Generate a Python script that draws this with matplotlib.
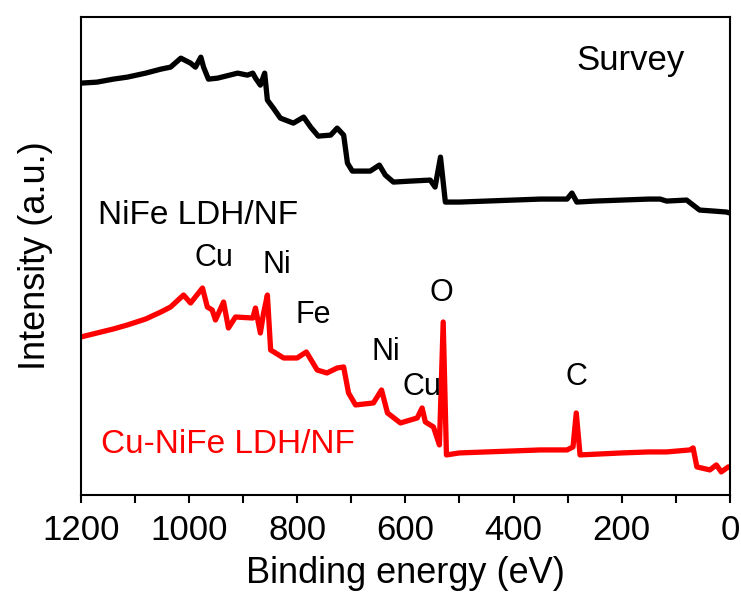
"""XPS survey spectra: NiFe LDH/NF vs Cu-NiFe LDH/NF."""

import matplotlib

matplotlib.use("Agg")
import matplotlib.pyplot as plt
from matplotlib.ticker import MultipleLocator

plt.rcParams["font.family"] = ["Liberation Sans", "DejaVu Sans"]

# binding energy (eV) and intensity (a.u., arbitrary offset units)
nife_energy = [1200, 1170, 1140, 1114, 1080, 1052, 1034, 1015, 997, 988, 978, 973,
               964, 947, 910, 892, 882, 877, 868, 860, 855, 844, 831, 807, 788,
               775, 761, 738, 726, 714, 707, 698, 665, 648, 637, 622, 590, 554,
               545, 535, 526, 500, 450, 400, 350, 301, 292, 283, 250, 200, 150,
               129, 117, 80, 56, 30, 6, 0]
nife_intensity = [412, 413, 416, 418, 422, 426, 428, 437, 432, 428, 438, 428,
                  416, 417, 422, 420, 422, 417, 410, 422, 395, 387, 377, 372, 378,
                  368, 359, 360, 367, 360, 332, 324, 324, 330, 320, 313, 314, 315,
                  308, 338, 293, 293, 294, 295, 296, 296, 302, 293, 294, 295, 296,
                  296, 294, 295, 285, 284, 283, 282]

cu_energy = [1200, 1170, 1140, 1114, 1080, 1052, 1034, 1010, 997, 975, 966, 957,
             951, 936, 927, 914, 882, 877, 868, 862, 855, 849, 825, 800, 783,
             763, 745, 726, 714, 705, 692, 659, 644, 633, 609, 578, 569, 563,
             548, 537, 530, 524, 500, 450, 400, 350, 301, 290, 284, 277, 200,
             150, 117, 74, 68, 61, 37, 25, 16, 3, 0]
cu_intensity = [158, 162, 166, 170, 176, 183, 188, 200, 192, 207, 188, 185,
                175, 193, 167, 178, 177, 187, 162, 182, 200, 145, 137, 137, 143,
                125, 122, 127, 128, 102, 90, 92, 105, 82, 72, 77, 87, 73,
                68, 50, 173, 40, 42, 43, 44, 45, 45, 48, 82, 40, 42,
                43, 43, 45, 47, 28, 25, 30, 23, 28, 28]

peak_labels = ["Cu", "Ni", "Fe", "O", "Ni", "Cu", "C"]
peak_label_energy = [954, 838, 771, 534, 637, 570, 283]
peak_label_height = [237, 230, 180, 202, 143, 108, 118]

fig = plt.figure(figsize=(7.41, 5.92), dpi=100)
ax = fig.add_axes([0.109, 0.164, 0.876, 0.807])

ax.plot(nife_energy, nife_intensity, color="black", lw=3.8,
        solid_joinstyle="round", solid_capstyle="round")
ax.plot(cu_energy, cu_intensity, color="#ff0000", lw=3.8,
        solid_joinstyle="round", solid_capstyle="round")

for lab, e, h in zip(peak_labels, peak_label_energy, peak_label_height):
    ax.text(e, h, lab, fontsize=22, ha="center", va="center")

ax.text(183, 435, "Survey", fontsize=25, ha="center", va="center")
ax.text(1169, 280, "NiFe LDH/NF", fontsize=24, ha="left", va="center")
ax.text(1163, 50, "Cu-NiFe LDH/NF", fontsize=24, ha="left", va="center", color="#ff0000")

ax.set_xlim(1200, 0)
ax.set_ylim(0, 478)
ax.xaxis.set_major_locator(MultipleLocator(200))
ax.xaxis.set_minor_locator(MultipleLocator(100))
ax.tick_params(axis="x", which="both", direction="out", length=6, width=1.5,
               labelsize=25, pad=8)
ax.set_yticks([])
for sp in ax.spines.values():
    sp.set_linewidth(1.5)

ax.set_xlabel("Binding energy (eV)", fontsize=26, labelpad=6)
ax.set_ylabel("Intensity (a.u.)", fontsize=26, labelpad=20)

fig.savefig("out.png", dpi=100)
plt.close(fig)
